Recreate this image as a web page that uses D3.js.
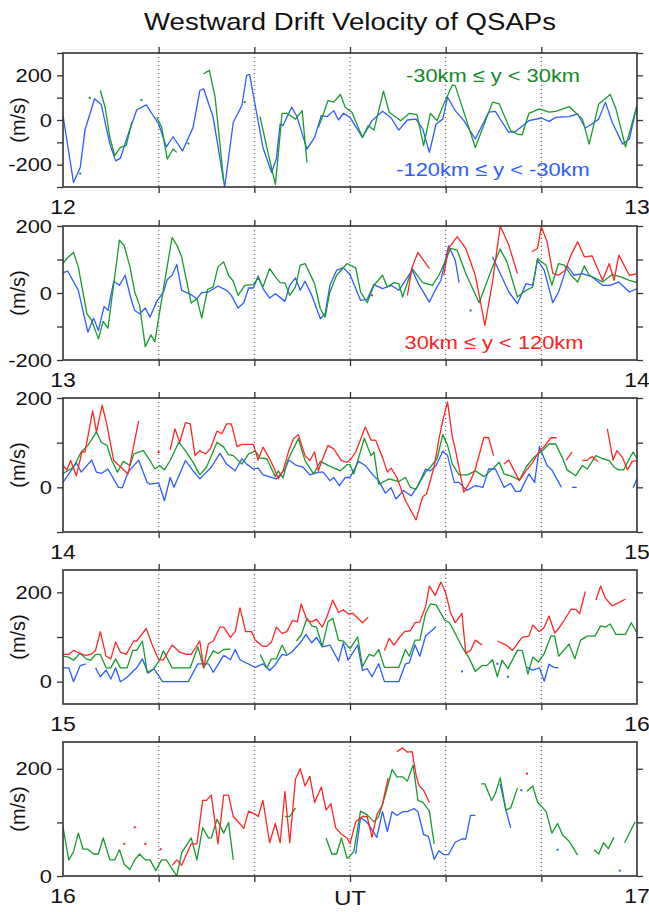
<!DOCTYPE html>
<html><head><meta charset="utf-8">
<script src="https://cdn.jsdelivr.net/npm/d3@7"></script>
<style>body{margin:0;background:#fff} text{font-family:"Liberation Sans",Arial,sans-serif}</style>
</head><body><svg id="c" width="649" height="912"></svg>
<script>
// ---- data: each series is a list of segments of [minute, value] ----
const hourLabels = [12, 13, 14, 15, 16, 17];
const legendLabels = ["-30km \u2264 y < 30km", "-120km \u2264 y < -30km", "30km \u2264 y < 120km"];
const minorTickStep = 100, labelStep = 200;

const p1Blue = [[[0,20],[1.1,-280],[1.8,-213],[2.3,-45],[3.3,95],[4,69],[4.9,-108],[5.5,-183],[6,-171],[6.7,-78],[7.7,45],[8.7,68],[10,-18],[10.8,-120],[11.5,-75],[12.5,-138],[13.6,-33],[14.3,132],[14.7,140],[15.7,12],[16.9,-300],[17.8,-10],[18.7,65],[19.2,200],[19.5,204],[20,87],[20.9,-123],[21.8,-235],[22.3,-175],[22.7,-18],[23,-25],[23.9,57],[24.4,20],[24.8,-33],[25.5,-130],[26.3,-78],[27,20],[27.6,15],[28.3,42],[28.8,0],[29.3,30],[30,12],[31.3,-78],[32.3,-3],[33.4,39],[34.3,9],[35.1,-45],[36,0],[36.9,4],[37.6,-40],[38.3,-145],[39,-18],[39.7,4],[40.2,102],[41,42],[41.9,-3],[43.1,-85],[44.5,35],[45.2,39],[45.9,-10],[46.6,-55],[47.3,-51],[48.7,-3],[50,9],[50.8,-6],[51.5,12],[52.9,15],[53.8,27],[54.6,-36],[55.3,-18],[56,4],[56.7,80],[57.4,-10],[58.5,-108],[59.2,-85],[60,65]]];
const p1Green = [[[1.8,-240]],[[2.8,99]],
 [[3.9,132],[4.4,57],[4.9,-78],[5.4,-160],[6,-123],[6.6,-115],[7.2,-10]],
 [[8.2,90]],
 [[9.8,12],[10.3,-30],[10.9,-175],[11.5,-130],[11.9,-145]],
 [[13.1,-105]],
 [[14.7,207],[15.3,222],[15.9,102],[16.8,-273]],
 [[19,80]],
 [[20.6,15],[21.3,-123],[22.2,-288],[22.5,-153],[22.9,30],[23.4,30],[24.3,4],[25,42],[25.5,-190]],
 [[26.7,-33],[27.1,12],[27.7,87],[28.3,80],[29,114],[29.5,57],[30.2,35],[31.3,-78],[31.9,-25],[32.5,-45],[33.5,129],[34.1,35],[35.3,-3],[36.2,30],[37,24],[37.7,-115],[38.4,30],[39.1,-3],[39.8,72],[40.7,157],[41,154],[43.1,-123],[44.9,80],[45.6,72],[46.8,-48],[47.5,-63],[48,-66],[48.7,30],[49.8,50],[50.8,35],[51.5,39],[52.9,60],[54.3,4],[55,-108],[56,72],[57.2,114],[57.8,50],[58.8,-120],[60,65]]];
const p1Red = [];

const p2Blue = [[[0,61],[0.5,65],[1.6,8],[2.6,-117],[3.2,-75],[3.7,-112],[4.3,-40],[4.7,-52],[5.3,35],[5.9,23],[6.5,53],[7.1,-17],[7.5,-52],[8,-62],[8.6,-45],[9.1,-72],[9.8,-25],[10.5,3],[10.9,40],[11.4,53],[11.9,85],[12.4,8],[13.4,-5],[14,-17],[14.5,1],[15.2,3],[16.2,21],[17.1,8],[17.6,-7],[18.3,-45],[18.9,-29],[19.4,15],[19.9,15],[20.4,51],[20.9,13],[21.6,-15],[22.2,-2],[23.2,-25],[23.7,23],[24.3,45],[24.8,8],[25.3,35],[26,-7],[26.9,-77],[27.4,-62],[27.9,23],[28.6,68],[29.3,75],[30,55],[31.1,-22],[31.8,-19],[32.5,25],[33.4,13],[34.3,23],[35.1,8],[35.8,38],[36.5,68],[37.2,25],[38.3,-27],[38.9,8],[39.5,38],[40.3,141],[41,98],[41.4,31]],
 [[42.6,-52]],
 [[44.9,108],[46.6,3],[47.5,-32],[48.4,28],[49.1,23],[49.6,98],[50.3,68],[51.2,-29],[51.8,3],[52.7,81],[53.4,53],[54.3,58],[55.3,48],[56.4,23],[57.2,23],[58.1,33],[59.2,3],[60,13]]];
const p2Green = [[[0,88],[0.4,103],[1.1,121],[1.6,78],[2.5,-62],[3,-82],[3.7,-137],[4.2,-85],[4.7,-105],[5.9,158],[6.4,141],[7,78],[7.5,3],[8,-37],[8.6,-160],[9.2,-125],[9.6,-145],[10.5,13],[11.4,165],[11.9,143],[12.4,108],[13.4,-30],[14,-17],[14.5,-75],[15.1,10],[15.7,18],[16.2,78],[16.8,93],[17.3,53],[17.8,35],[18.3,-7],[19,23],[19.9,25],[20.4,45],[20.9,18],[21.6,73],[22.2,48],[22.7,31],[23.2,30],[23.7,-7],[24.3,18],[24.8,83],[25.3,88],[26.3,28],[26.9,-47],[27.4,-72],[27.9,3],[28.6,53],[29.7,88],[30.6,75],[31.1,3],[31.8,-29],[32.5,23],[33.4,53],[33.9,18],[34.6,31],[35.1,28],[35.5,-12],[36.5,73],[37.6,31],[38.6,23],[39.3,53],[40,98],[40.5,133],[41.2,128],[42.1,58],[43.5,-29],[44.9,78],[45.7,131],[46.4,93],[47.5,-12],[48.4,8],[49.1,18],[49.6,103],[50.5,83],[51.1,23],[51.8,88],[52.4,83],[53.1,53],[53.8,33],[54.5,81],[55,53],[56.4,33],[57.4,55],[58.3,48],[59.2,38],[60,31]]];
const p2Red = [[[32.3,-7]],
 [[36,-7],[36.5,78],[37.1,121],[38.3,73]],
 [[39.8,53],[40.3,133],[41.2,168],[42.1,133],[43.1,53],[44.1,-97],[44.9,33],[45.7,200],[46.6,143],[47.5,58]],
 [[49,123],[49.6,133],[50,198],[50.6,153],[51.2,58],[51.8,53],[52.5,68],[53.1,113],[53.8,153],[54.5,108],[55.3,111],[56.4,38],[57.1,88],[57.6,38],[58.1,113],[59.2,53],[60,58]]];

const p3Blue = [[[0,11],[1.4,55],[1.9,34],[3,61],[3.5,34],[4,31],[4.7,41],[5.8,0],[6.2,-1],[6.8,34],[7.9,61],[8.8,11],[9.1,7],[10,10],[10.6,-30],[11.2,22],[11.6,0],[12.8,60],[13.6,37],[14.3,19],[15.5,45],[16.4,76],[17.1,52],[18,37],[18.7,64],[19.2,52],[19.9,41],[20.4,43],[20.9,28],[22.3,19],[23.2,41],[23.6,61],[24.4,49],[25.1,45],[25.8,28],[26.7,34],[27.2,34],[27.9,15],[28.3,22],[28.9,4],[29.5,22],[30,22],[30.9,58],[31.6,49],[32.3,30],[33,15],[33.7,-13],[34.3,-1],[34.8,-26],[35.6,-7],[36.4,-19],[37.1,4],[37.9,41],[38.4,37],[39,49],[39.7,81],[40.2,71],[40.9,11],[41.4,11],[42.2,-7],[43.1,4],[43.9,0],[44.5,41],[45.2,41],[46.1,0],[46.8,9],[47.3,-9],[47.8,-9],[48.7,30],[49.3,11],[49.8,91],[50.6,49],[51.1,39],[52.1,0]],
 [[53.2,0],[53.7,0]],
 [[59.6,-1],[60,19]]];
const p3Green = [[[0,31],[1.1,45],[1.9,79],[2.6,94],[3.5,124],[4,101],[4.6,94],[5.1,60],[5.7,34],[6.3,58],[7,49],[7.4,75],[8.4,82],[9.1,60],[9.6,41],[10.1,49],[10.6,39],[11.2,60],[12.1,101],[12.9,79],[13.6,56],[14.3,28],[15,45],[16.1,101],[16.8,90],[17.3,73],[17.8,71],[18.7,52],[19.4,75],[20.1,81],[20.6,66],[21.3,64],[22.2,24],[22.5,37],[23,21],[23.5,61],[24.6,109],[25.3,60],[26.2,30],[26.9,58],[27.7,49],[29,37],[29.7,51],[30,51],[30.4,30],[31.5,110],[32.2,71],[32.5,79],[33,7],[34.1,19],[35.1,13],[35.8,22],[36.3,0],[36.9,-4],[37.9,34],[38.4,45],[39.1,64],[39.7,118],[40.2,94],[40.7,52],[41.4,28],[42.3,28],[43.1,37],[44,24],[44.9,41],[45.6,56],[46.1,30],[47,24],[47.7,16],[48.4,45],[49.2,67],[50.1,82],[50.8,97],[51.5,97],[52.2,66],[52.7,39],[53.6,26],[54.3,49],[54.8,41],[55.7,71],[56.4,64],[57.1,60],[57.6,45],[58.1,39],[58.6,39],[59.2,64],[59.6,79],[60,64]]];
const p3Red = [[[0,49],[0.4,39],[0.8,60],[1.4,26],[2,81],[2.3,79],[3.1,171],[3.5,124],[4.1,184],[4.6,139],[5.3,60],[6.8,30],[7.9,148]],
 [[10,79]],
 [[11.2,84],[11.7,131],[12.2,101],[12.8,145],[13.3,142],[13.8,71],[14.3,82],[14.9,75],[15.4,86],[16.1,126],[16.6,120],[17.1,142],[17.6,142],[18.2,91],[18.7,96],[19.9,96],[20.4,61],[20.9,90],[21.6,64],[22.1,41],[22.5,19],[23,37],[23.6,82],[24.1,109],[24.6,118],[25.3,71],[25.8,60],[26.3,79],[26.7,37],[27,56],[27.7,94],[28.3,86],[29.1,60],[29.7,56],[30,61],[30.6,79],[31.6,135],[32.2,106],[32.7,105],[33.4,67],[33.9,34],[34.3,43],[34.9,22],[35.8,-30],[36.9,-73],[37.6,-21],[38,-15],[38.8,46],[39.3,109],[39.7,150],[40.2,191],[40.7,112],[41,86],[41.9,-11],[42.6,15],[43.1,41],[44,112],[44.5,111],[45,71]],
 [[46.1,52],[46.6,61],[47.7,15],[48.4,37],[49.1,56],[49.8,82],[50.3,91],[51,111],[51.6,111]],
 [[52.6,61],[53.2,79]],
 [[54.3,60],[54.8,61],[55.3,69],[55.9,58]],
 [[56.9,131],[57.5,61],[57.9,82],[58.5,66],[59,39],[59.5,58],[60,60]]];

const p4Blue = [[[0,31],[0.6,31],[1.1,0],[1.8,36],[2.4,40]],
 [[3.4,31],[3.9,11],[4.5,26],[5,6],[5.5,31],[6,0],[6.7,10],[7.7,31],[8.3,51],[8.9,19],[9.5,29],[10.1,10],[10.4,0],[13.1,0],[14.1,40],[15.2,40],[15.7,21],[16.8,59],[17.5,49],[18,72],[18.5,49],[20.1,32],[20.9,40],[21.6,25],[22.2,38],[22.9,61],[23.4,59],[23.9,66],[24.8,87],[25.4,106],[26,87],[26.5,99],[27.1,78],[27.9,82],[28.8,46],[29.3,87],[29.8,48],[30.8,82],[31.3,25],[31.8,29],[32.3,11],[33,40],[33.6,0],[35.1,0],[35.8,40],[36.2,42],[36.8,82],[37.3,57],[37.9,102],[39,123]],
 [[41.7,23]],[[45.4,40]],[[46.5,11]],
 [[48.5,32],[49.1,26],[49.8,31],[50.3,1],[50.8,39],[51.3,32],[51.8,31]]];
const p4Green = [[[0,57],[0.6,55],[1.1,48],[1.8,64],[2.4,51],[2.9,48],[3.4,61],[3.9,61],[4.5,31],[5,31],[5.5,51],[6,31],[6.7,31],[7.3,70],[7.7,70],[8.3,91],[8.8,21],[9.5,29],[10.1,48],[10.5,69],[11.4,31],[13.3,31],[14.1,78],[14.7,31],[15.7,69],[16.2,63],[16.8,72],[17.5,73]],
 [[20.6,61],[21.3,31],[21.8,51],[22.3,51],[22.9,82],[23.4,61]],
 [[24.4,91],[24.9,104],[25.5,142],[26,125],[26.5,122],[27.1,79],[27.7,134],[28.2,142],[28.8,93],[29.3,91],[30,74],[30.8,100],[31.3,34],[32,61],[32.5,57],[33,72],[33.6,32],[35.1,32],[35.8,72],[36.2,57],[36.8,93],[37.3,93],[37.9,153],[38.4,174],[39,172],[39.9,138],[40.4,132],[41,108],[41.7,78],[42.4,55],[43.1,23],[43.8,36],[44.3,36],[44.9,49],[45.4,11],[45.9,48],[46.5,29],[47.5,70],[48,70],[48.6,17],[49.1,55],[49.7,44],[50.3,63],[51,102],[51.4,102],[51.8,57],[52.9,84],[53.5,51],[54.1,93],[54.8,102],[55.6,102],[56.2,125],[56.7,122],[57.2,129],[57.8,106],[58.8,106],[59.4,132],[60,109]]];
const p4Red = [[[0,61],[0.6,61],[1.1,70],[1.8,63],[2.4,59],[2.9,61],[3.4,70],[3.9,112],[4.5,57],[5,51],[5.5,89],[6,66],[6.6,61],[7.4,91],[7.7,91],[8.7,119],[9.4,78],[10,49],[10.5,49],[11.4,82],[12.2,66],[12.9,61],[13.4,61],[14.3,91],[14.7,31],[15.2,85],[15.7,91],[16.4,122],[16.8,122],[17.5,99],[18,112],[18.5,165],[19.1,112],[19.7,112],[20.1,93],[20.9,79],[21.3,79],[21.8,89],[22.3,122],[22.9,108],[23.4,112],[24,137],[24.5,134],[24.9,174],[25.5,138],[26,134],[26.5,140],[27.1,122],[27.6,146],[28.2,183],[28.8,155],[29.3,161],[29.8,152],[30.3,153],[31.3,132],[31.9,144]],
 [[33.6,70],[34.1,97],[34.6,82],[35.2,100],[35.7,112],[36.3,114],[36.8,132],[37.3,134],[37.9,168],[38.3,214],[38.9,193],[39.5,223],[40,199],[40.5,155],[41,132],[41.7,153],[42.1,64],[42.6,70],[43.1,93],[43.8,82]],
 [[45.4,91],[46.3,82],[47,70],[47.5,85],[48,99],[48.7,102],[49.1,127],[49.8,112],[50.3,122],[50.8,147],[51.4,109],[51.8,119],[52.4,138],[53.1,162],[53.6,162],[54,152],[54.6,202]],
 [[55.7,183],[56.2,214],[56.7,187],[57.4,170],[58.1,177],[58.8,185]]];

const p5Blue = [[[30.6,41],[31.1,109],[31.8,100],[32.3,86],[32.8,72],[33.4,120],[33.9,83],[34.4,120],[34.9,113],[35.5,120],[36,120],[36.7,126],[37.1,120],[37.7,77],[38.2,74],[38.8,31],[39.3,47],[39.8,40],[40.3,40],[41,63],[41.7,69],[42.1,69],[42.6,113],[43.1,113]],
 [[45.7,172],[46.3,123],[46.8,90]],
 [[47.9,160]],[[51.7,49]],[[58.2,10]]];
const p5Green = [[[0,92],[0.6,30],[1.1,45],[1.6,80],[2.1,50],[2.6,50],[3.2,41],[3.7,41],[4.2,71],[4.9,30],[5.4,30],[5.9,49],[6.4,22],[7,12],[7.5,30],[8,41],[8.6,30],[9.1,30],[9.7,10],[10.3,30],[10.8,30],[11.9,0],[12.4,43],[13.4,71],[14,30],[14.6,90],[15.2,71],[15.5,71],[16.1,106],[16.8,80],[17.3,100],[17.8,30]],
 [[23.2,111],[23.7,111],[24.3,127]],
 [[27.5,71],[28.1,41],[28.6,41],[29.1,71],[29.7,33],[30,37],[30.4,46],[31.1,121],[31.8,114],[32.5,101],[33,111],[33.7,152],[34.4,199],[34.9,185],[35.5,185],[36,177],[36.6,207],[37.1,141],[37.6,138],[38.3,121],[38.8,60]],
 [[43.7,172],[44.1,172],[44.8,141],[45.2,154],[45.7,183],[46.3,123],[46.8,127],[47.5,164]],
 [[48.5,158],[49.1,168],[49.6,138],[50.5,120],[51.1,80],[51.7,98],[52.2,77],[52.9,65],[53.8,39]],
 [[55.5,49],[56,41],[56.5,62],[57,51],[57.6,72]],
 [[58.7,62],[59.8,101]]];
const p5Red = [[[6.4,60]],[[7.5,91]],[[8.6,60]],[[10.2,50]],
 [[11.4,20],[11.9,30],[12.4,20],[13.4,60],[14,60],[14.6,141],[15,141],[15.5,151],[16.2,60],[16.8,151],[17.3,151],[17.8,111],[18.9,89],[19.4,121],[20.1,115],[20.4,111],[20.9,141],[21.6,62],[22.2,98],[22.7,62],[23.2,158],[23.7,62],[24.3,181],[24.8,200],[25.3,168],[25.8,186],[26.3,137],[27,166],[27.5,123],[28,135],[28.5,90],[29.1,78],[29.7,71],[30,60],[30.6,101],[31.3,111],[31.8,111],[32.3,72],[32.8,114],[33.4,133],[33.6,152],[34,183]],
 [[34.9,232],[35.5,239],[36,231],[36.5,232],[36.9,189],[37.2,169],[37.7,160],[38.3,137]],
 [[48.5,191]]];

const yDomains = [[-300,300],[-200,200],[-100,200],[-50,250],[0,250]];
const panelSeries = [
  {green:p1Green, blue:p1Blue, red:p1Red},
  {green:p2Green, blue:p2Blue, red:p2Red},
  {green:p3Green, blue:p3Blue, red:p3Red},
  {green:p4Green, blue:p4Blue, red:p4Red},
  {green:p5Green, blue:p5Blue, red:p5Red}];

// ---- layout ----
const L = 63, R = 637, PH = 134;
const TOPS = [53, 226, 398, 570, 742];
const COL = {green:"#169a2e", blue:"#2d5cff", red:"#ff2626"};
const SX = 1.15;
const svg = d3.select("#c");
const x = d3.scaleLinear().domain([0, 60]).range([L, R]);
const gridMinutes = [10, 20, 30, 40, 50];

function txt(g, px, py, s, size, anchor, fill) {
  return g.append("text").attr("transform", `translate(${px},${py}) scale(${SX},1)`)
    .attr("text-anchor", anchor).attr("font-size", size).attr("fill", fill || "#111").text(s);
}

txt(svg, 350, 30, "Westward Drift Velocity of QSAPs", 24, "middle");

panelSeries.forEach((ser, i) => {
  const top = TOPS[i];
  const dom = yDomains[i];
  const y = d3.scaleLinear().domain(dom).range([top + PH, top]);
  const g = svg.append("g");
  g.append("clipPath").attr("id", "clip" + i).append("rect")
    .attr("x", L).attr("y", top).attr("width", R - L).attr("height", PH);

  // dotted grid
  g.selectAll(".grid").data(gridMinutes).join("line")
    .attr("x1", d => x(d)).attr("x2", d => x(d)).attr("y1", top).attr("y2", top + PH)
    .attr("stroke", "#444").attr("stroke-width", 1).attr("stroke-dasharray", "1,3");

  const line = d3.line().x(d => x(d[0])).y(d => y(d[1]));
  const pg = g.append("g").attr("clip-path", `url(#clip${i})`);
  ["blue", "green", "red"].forEach(k => {
    ser[k].forEach(seg => {
      if (seg.length > 1) {
        pg.append("path").datum(seg).attr("d", line).attr("fill", "none")
          .attr("stroke", COL[k]).attr("stroke-width", 1.3).attr("stroke-linejoin", "round");
      } else {
        pg.append("rect").attr("x", x(seg[0][0]) - 1).attr("y", y(seg[0][1]) - 1)
          .attr("width", 2).attr("height", 2).attr("fill", COL[k]);
      }
    });
  });

  // axes (ticks every 100, labels every 200, including frame ends)
  const yt = d3.range(Math.ceil(dom[0] / minorTickStep) * minorTickStep, dom[1] + 1, minorTickStep)
    .filter(v => v >= dom[0] && v <= dom[1]);
  const ax = g.append("g").attr("transform", `translate(${L},0)`)
    .call(d3.axisLeft(y).tickValues(yt).tickSize(6).tickSizeOuter(0).tickPadding(5)
      .tickFormat(v => v % labelStep === 0 ? v : ""));
  ax.select(".domain").remove();
  ax.selectAll("line").attr("stroke", "#333").attr("stroke-width", 1.3);
  ax.selectAll("text").attr("font-size", 19).attr("fill", "#111")
    .attr("font-family", '"Liberation Sans",Arial,sans-serif')
    .attr("x", -11 / SX).attr("transform", `scale(${SX},1)`);
  const axr = g.append("g").attr("transform", `translate(${R},0)`)
    .call(d3.axisRight(y).tickValues(yt).tickSize(6).tickSizeOuter(0).tickFormat(""));
  axr.select(".domain").remove();
  axr.selectAll("line").attr("stroke", "#333").attr("stroke-width", 1.3);
  const axt = g.append("g").attr("transform", `translate(0,${top})`)
    .call(d3.axisTop(x).tickValues(gridMinutes).tickSize(6).tickSizeOuter(0).tickFormat(""));
  axt.select(".domain").remove();
  axt.selectAll("line").attr("stroke", "#333").attr("stroke-width", 1.3);
  const axb = g.append("g").attr("transform", `translate(0,${top + PH})`)
    .call(d3.axisBottom(x).tickValues(gridMinutes).tickSize(6).tickSizeOuter(0).tickFormat(""));
  axb.select(".domain").remove();
  axb.selectAll("line").attr("stroke", "#333").attr("stroke-width", 1.3);

  g.append("rect").attr("x", L).attr("y", top).attr("width", R - L).attr("height", PH)
    .attr("fill", "none").attr("stroke", "#333").attr("stroke-width", 1.6);

  // y label
  g.append("text").attr("transform", `translate(25,${top + PH / 2}) rotate(-90)`)
    .attr("text-anchor", "middle").attr("font-size", 20).attr("fill", "#111").text("(m/s)");

  // hour labels
  txt(g, x(0), top + PH + 27, hourLabels[i], 20, "middle");
  txt(g, x(60), top + PH + 27, hourLabels[i + 1], 20, "middle");
});

// legends
txt(svg, 493, 82, legendLabels[0], 19, "middle", "#0f8a22");
txt(svg, 493, 176, legendLabels[1], 19, "middle", "#2d5cff");
txt(svg, 494, 349, legendLabels[2], 19, "middle", "#ff2020");
txt(svg, 350, 905, "UT", 21, "middle");
</script></body></html>
